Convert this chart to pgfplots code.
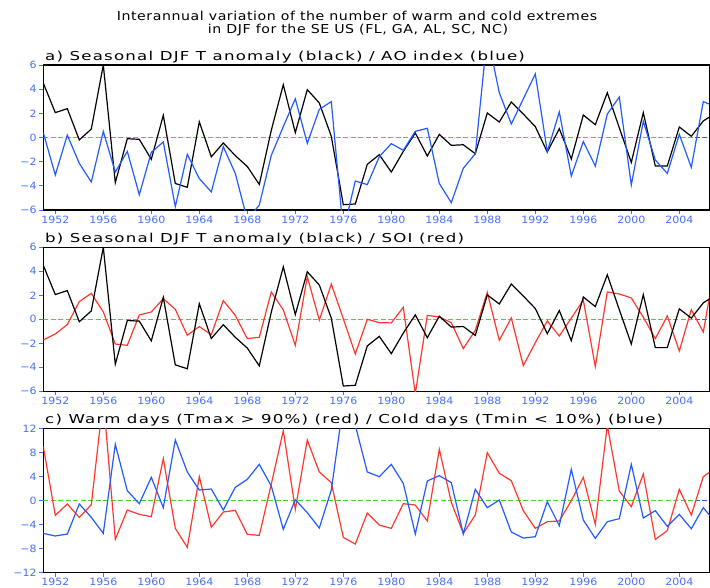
\documentclass[border=0pt]{standalone}
\usepackage{fontspec}
\setmainfont{DejaVu Sans}
\usepackage{pgfplots}
\usepackage{pgfplotstable}
\pgfplotsset{compat=1.18}
\newfontfamily\titlefont[FakeStretch=1.15,LetterSpace=4.5]{DejaVu Sans}
\newfontfamily\panelfont[FakeStretch=1.35,LetterSpace=10]{DejaVu Sans}
\newfontfamily\tickfont[FakeStretch=1.1]{DejaVu Sans}
\definecolor{sblue}{RGB}{35,90,255}
\definecolor{tblue}{RGB}{70,110,255}
\definecolor{sred}{RGB}{255,55,45}
\definecolor{sgreen}{RGB}{70,215,45}

\pgfplotstableread{
year T AO SOI warm cold
1951 4.5 0.4 -1.72 8.95 -5.46
1952 2.06 -3.1 -1.22 -2.47 -5.9
1953 2.39 0.2 -0.44 -0.58 -5.57
1954 -0.2 -2.14 1.47 -2.8 -0.58
1955 0.7 -3.68 2.17 -0.7 -2.8
1956 6.0 0.5 0.61 17 -5.46
1957 -3.74 -2.86 -2.06 -6.46 9.34
1958 -0.1 -1.15 -2.17 -1.58 1.63
1959 -0.15 -4.73 0.36 -2.3 -0.53
1960 -1.8 -1.23 0.61 -2.69 3.85
1961 1.83 -0.37 1.72 6.96 -1.19
1962 -3.8 -5.72 0.83 -4.63 10.06
1963 -4.12 -1.39 -1.33 -7.79 4.74
1964 1.3 -3.4 -0.61 3.96 1.74
1965 -1.6 -4.5 -1.28 -4.46 1.91
1966 -0.45 -0.76 1.56 -1.91 -1.58
1967 -1.5 -2.97 0.33 -1.64 2.19
1968 -2.4 -6.8 -1.61 -5.63 3.52
1969 -3.88 -5.59 -1.5 -5.8 6.01
1970 0.6 -1.48 2.28 2.74 2.41
1971 4.37 0.9 0.78 11.6 -4.8
1972 0.4 3.2 -2.17 -1.47 0.14
1973 3.96 -0.48 3.56 10.06 -2.02
1974 2.86 2.33 -0.06 4.74 -4.57
1975 0.1 2.97 2.94 2.97 1.74
1976 -5.56 -7.8 0.05 -6.13 16
1977 -5.5 -3.6 -2.89 -7.24 12.5
1978 -2.22 -3.9 0.0 -2.08 4.74
1979 -1.42 -1.59 -0.28 -4.08 3.96
1980 -2.86 -0.51 -0.3 -4.63 6.01
1981 -1.15 -1.06 1.0 -0.53 2.85
1982 0.37 0.51 -6.2 -0.75 -5.57
1983 -1.53 0.76 0.33 -3.41 3.24
1984 0.26 -3.8 0.19 8.51 4.13
1985 -0.65 -5.39 -0.28 -0.3 2.97
1986 -0.6 -2.55 -2.44 -5.46 -5.57
1987 -1.34 -1.34 -0.92 -2.41 1.86
1988 2.03 8.5 2.25 7.95 -1.19
1989 1.28 3.71 -1.75 4.52 0.08
1990 2.94 1.12 0.11 3.3 -5.24
1991 1.94 3.19 -3.86 -1.69 -6.24
1992 0.9 5.26 -1.95 -4.63 -6.02
1993 -1.2 -1.17 -0.14 -3.52 -0.2
1994 0.73 2.11 -1.39 -3.41 -4.19
1995 -1.78 -3.19 0.1 -0.03 5.18
1996 1.86 -0.34 1.61 3.85 -3.24
1997 1.06 -2.36 -3.94 -3.96 -6.29
1998 3.71 1.94 2.28 12.5 -3.52
1999 0.8 3.35 2.11 1.58 -3.02
2000 -2.06 -3.93 1.78 -1.03 6.01
2001 2.06 1.34 0.17 4.41 -2.91
2002 -2.36 -1.86 -1.61 -6.46 -1.69
2003 -2.36 -2.97 0.28 -5.02 -4.3
2004 0.87 0.26 -2.64 1.86 -2.3
2005 0.1 -2.47 0.81 -2.41 -4.69
2006 1.37 2.97 -1.06 3.96 -1.19
2007 2.0 2.57 4.6 5.4 -3.6
}\datatable

\pgfplotsset{
  panel/.style={
    scale only axis, width=666pt,
    xmin=1951, xmax=2006.5,
    axis line style={line width=1.5pt, black},
    tick align=outside, tick pos=left,
    major tick length=4pt,
    tick style={color=tblue, line width=0.9pt},
    tick label style={font=\tickfont\fontsize{10}{12}\selectfont, text=tblue, inner sep=0pt},
    xtick={1952,1956,...,2004},
    xticklabels={1952,1956,1960,1964,1968,1972,1976,1980,1984,1988,1992,1996,2000,2004},
    xticklabel style={yshift=-1.5pt},
    yticklabel style={xshift=-2.5pt},
    minor tick num=0,
  },
  ser/.style={line width=1.2pt, line join=miter},
}

\begin{document}
\begin{tikzpicture}
\useasboundingbox (0pt,0pt) rectangle (710pt,-587pt);
\node[font=\titlefont\fontsize{12.3}{14}\selectfont, inner sep=0pt] at (357pt,-16pt) {Interannual variation of the number of warm and cold extremes};
\node[font=\titlefont\fontsize{12.3}{14}\selectfont, inner sep=0pt] at (358pt,-30pt) {in DJF for the SE US (FL, GA, AL, SC, NC)};

\node[font=\panelfont\fontsize{12.3}{14}\selectfont, inner sep=0pt, anchor=base west] at (45pt,-60pt) {a) Seasonal DJF T anomaly (black) / AO index (blue)};
\node[font=\panelfont\fontsize{12.3}{14}\selectfont, inner sep=0pt, anchor=base west] at (45pt,-242pt) {b) Seasonal DJF T anomaly (black) / SOI (red)};
\node[font=\panelfont\fontsize{12.3}{14}\selectfont, inner sep=0pt, anchor=base west] at (45pt,-423pt) {c) Warm days (Tmax > 90\%) (red) / Cold days (Tmin < 10\%) (blue)};

\begin{axis}[panel, at={(43.3pt,-65pt)}, anchor=north west, height=145pt,
  ymin=-6, ymax=6, ytick={-6,-4,...,6}, yticklabels={−6,−4,−2,0,2,4,6}]
  \addplot[color=sgreen, dash pattern=on 5pt off 2.5pt, line width=1.6pt] coordinates {(1951,0) (2005.3,0)};
  \addplot[color=sblue, dash pattern=on 5pt off 2.5pt, line width=1.6pt] coordinates {(2005.3,0) (2007,0)};
  \addplot[ser, black] table[x=year,y=T]{\datatable};
  \addplot[ser, sblue] table[x=year,y=AO]{\datatable};
\end{axis}

\begin{axis}[panel, at={(43.3pt,-247.3pt)}, anchor=north west, height=144pt,
  ymin=-6, ymax=6, ytick={-6,-4,...,6}, yticklabels={−6,−4,−2,0,2,4,6}]
  \addplot[color=sgreen, dash pattern=on 5pt off 2.5pt, line width=1.6pt] coordinates {(1951,0) (2005.3,0)};
  \addplot[color=sblue, dash pattern=on 5pt off 2.5pt, line width=1.6pt] coordinates {(2005.3,0) (2007,0)};
  \addplot[ser, sred] table[x=year,y=SOI]{\datatable};
  \addplot[ser, black] table[x=year,y=T]{\datatable};
\end{axis}

\begin{axis}[panel, at={(43.3pt,-428.3pt)}, anchor=north west, height=144.4pt,
  ymin=-12, ymax=12, ytick={-12,-8,...,12}, yticklabels={−12,−8,−4,0,4,8,12}]
  \addplot[color=sgreen, dash pattern=on 5pt off 2.5pt, line width=1.6pt] coordinates {(1951,0) (2005.3,0)};
  \addplot[color=sblue, dash pattern=on 5pt off 2.5pt, line width=1.6pt] coordinates {(2005.3,0) (2007,0)};
  \addplot[ser, sred] table[x=year,y=warm]{\datatable};
  \addplot[ser, sblue] table[x=year,y=cold]{\datatable};
\end{axis}
\end{tikzpicture}
\end{document}
